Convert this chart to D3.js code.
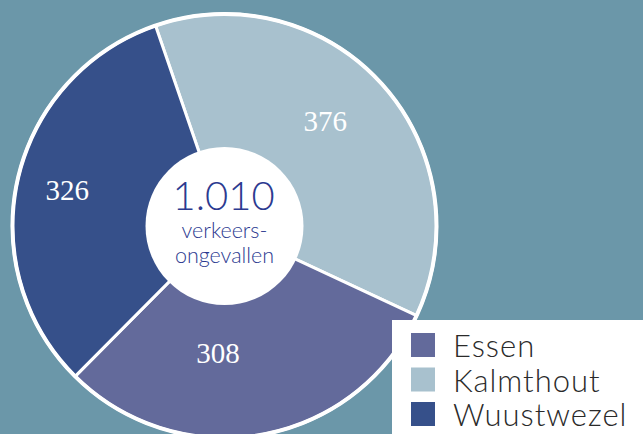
<!DOCTYPE html>
<html>
<head>
<meta charset="utf-8">
<script src="https://cdn.jsdelivr.net/npm/d3@7"></script>
<style>
  body { margin: 0; background: #6b97a9; overflow: hidden; }
  svg { display: block; }
</style>
</head>
<body>
<div id="chart"></div>
<script>
// data
var categories = ["Essen", "Kalmthout", "Wuustwezel"]
var values = [308, 376, 326]
var colors = ["#636a9b", "#a8c1ce", "#36508a"]
var total = "1.010"
var centerLines = ["verkeers-", "ongevallen"]

// clockwise drawing order, starting at the Kalmthout slice
var pieOrder = ["Kalmthout", "Essen", "Wuustwezel"]

// small label nudges (px) away from the arc centroid
var labelNudge = { Essen: [-32, -16], Kalmthout: [-7, -8], Wuustwezel: [-16, -4] }

var width = 643, height = 434
var cx = 224.5, cy = 226
var outerR = 212, innerR = 79

var svg = d3.select("#chart").append("svg")
    .attr("width", width)
    .attr("height", height)

var g = svg.append("g")
    .attr("transform", "translate(" + cx + "," + cy + ")")

var color = d3.scaleOrdinal().domain(categories).range(colors)

var rows = categories.map(function(c, i) { return {name: c, value: values[i]} })
rows.sort(function(a, b) { return pieOrder.indexOf(a.name) - pieOrder.indexOf(b.name) })

var start = -19 * Math.PI / 180
var pie = d3.pie()
    .sort(null)
    .value(function(d) { return d.value })
    .startAngle(start)
    .endAngle(start + 2 * Math.PI)

var arcs = pie(rows)

var arc = d3.arc().innerRadius(0).outerRadius(outerR)
var labelArc = d3.arc().innerRadius(145).outerRadius(145)

g.selectAll("path.slice")
    .data(arcs)
  .enter().append("path")
    .attr("class", "slice")
    .attr("d", arc)
    .attr("fill", function(d) { return color(d.data.name) })
    .attr("stroke", "white")
    .attr("stroke-width", 3)
    .attr("stroke-linejoin", "round")

// outer white rim
g.append("circle")
    .attr("r", outerR)
    .attr("fill", "none")
    .attr("stroke", "white")
    .attr("stroke-width", 4)

// white hole
g.append("circle")
    .attr("r", innerR)
    .attr("fill", "white")

g.selectAll("text.val")
    .data(arcs)
  .enter().append("text")
    .attr("class", "val")
    .attr("x", function(d) { return labelArc.centroid(d)[0] + labelNudge[d.data.name][0] })
    .attr("y", function(d) { return labelArc.centroid(d)[1] + labelNudge[d.data.name][1] })
    .attr("dy", "0.35em")
    .attr("text-anchor", "middle")
    .attr("fill", "white")
    .style("font-family", "'Liberation Serif', 'DejaVu Serif', serif")
    .style("font-size", "29px")
    .text(function(d) { return d.data.value })

// center text
g.append("text")
    .attr("x", -1)
    .attr("y", -16)
    .attr("text-anchor", "middle")
    .attr("fill", "#2c3a90")
    .style("font-family", "Lato, 'Open Sans', sans-serif")
    .style("font-weight", 300)
    .style("font-size", "40px")
    .text(total)

g.selectAll("text.sub")
    .data(centerLines)
  .enter().append("text")
    .attr("class", "sub")
    .attr("x", 0)
    .attr("y", function(d, i) { return 12 + i * 25 })
    .attr("text-anchor", "middle")
    .attr("fill", "#2c3a90")
    .style("font-family", "Lato, 'Open Sans', sans-serif")
    .style("font-weight", 300)
    .style("font-size", "21.5px")
    .text(function(d) { return d })

// legend
var legend = svg.append("g")
    .attr("transform", "translate(392,320)")

legend.append("rect")
    .attr("width", width - 392)
    .attr("height", height - 320)
    .attr("fill", "white")

var item = legend.selectAll("g.item")
    .data(categories)
  .enter().append("g")
    .attr("class", "item")
    .attr("transform", function(d, i) { return "translate(19," + (13 + i * 34.5) + ")" })

item.append("rect")
    .attr("width", 24)
    .attr("height", 24)
    .attr("fill", function(d) { return color(d) })

item.append("text")
    .attr("x", 42)
    .attr("y", 24)
    .attr("fill", "#2a2a2a")
    .style("font-family", "Lato, 'Open Sans', sans-serif")
    .style("font-weight", 300)
    .style("font-size", "31px")
    .style("letter-spacing", "1px")
    .text(function(d) { return d })
</script>
</body>
</html>
